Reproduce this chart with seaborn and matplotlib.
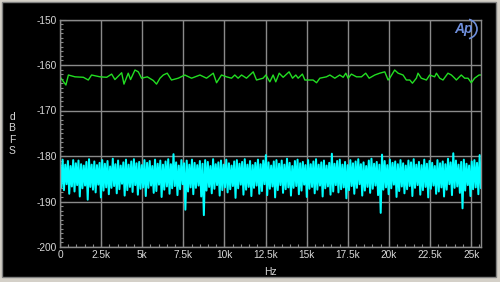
import numpy as np
import matplotlib
matplotlib.use("Agg")
import matplotlib.pyplot as plt
from matplotlib.patches import Rectangle, Arc
from matplotlib.ticker import MultipleLocator, FixedLocator
import seaborn as sns

# ---------------- data ----------------
green_khz = [0, 0.36, 0.51, 0.91, 1.42, 1.72, 1.92, 2.43, 2.84, 3.14, 3.34, 3.75, 3.89, 4.15, 4.29,
             4.56, 4.76, 4.96, 5.31, 5.67, 5.87, 6.08, 6.28, 6.52, 6.78, 7.19, 7.59, 8.00, 8.51,
             8.91, 9.32, 9.52, 9.82, 10.13, 10.43, 10.63, 10.83, 11.04, 11.34, 11.75, 11.95, 12.35,
             12.52, 12.76, 12.96, 13.12, 13.33, 13.57, 13.93, 14.14, 14.34, 14.48, 14.74, 14.89,
             15.39, 15.60, 15.80, 16.20, 16.41, 16.71, 17.01, 17.22, 17.38, 17.52, 17.72, 18.03,
             18.33, 18.59, 18.80, 19.14, 19.44, 19.75, 19.95, 20.05, 20.35, 20.56, 20.86, 21.06,
             21.27, 21.43, 21.67, 21.77, 21.97, 22.28, 22.48, 22.78, 22.89, 23.09, 23.29, 23.59,
             23.80, 24.00, 24.10, 24.40, 24.61, 24.81, 25.01, 25.21, 25.48, 25.58]
green_db = [-162.6, -164.4, -162.2, -162.6, -162.7, -163.3, -162.2, -162.6, -162.7, -162.0, -163.2,
            -161.7, -164.2, -161.8, -163.2, -161.1, -161.5, -162.9, -162.6, -163.4, -164.2, -162.9,
            -162.2, -161.8, -163.3, -162.9, -162.2, -162.9, -162.2, -162.9, -161.8, -163.9, -162.2,
            -162.6, -162.9, -162.2, -162.9, -162.2, -162.9, -161.5, -163.3, -162.9, -162.2, -163.7,
            -162.2, -163.7, -161.8, -162.7, -161.5, -162.9, -162.2, -162.9, -162.0, -163.3, -163.3,
            -163.9, -162.9, -162.6, -162.2, -162.9, -162.2, -162.7, -161.8, -162.9, -162.0, -162.6,
            -162.6, -161.8, -162.9, -162.2, -161.8, -161.5, -163.3, -162.9, -161.1, -161.8, -162.2,
            -163.3, -163.3, -164.0, -162.9, -161.8, -162.9, -163.3, -162.2, -162.6, -161.8, -162.9,
            -163.3, -161.8, -162.2, -162.9, -163.3, -162.2, -162.9, -162.9, -163.9, -162.9, -162.2,
            -162.2]

cyan_db = [
    -181.4, -186.9, -180.8, -187.5, -181.9, -186.2, -181.1, -188.3, -182.2, -186.7, -180.9, -187.8, -181.6, -186.4, -181.0, -188.9, -181.8, -187.1, -182.1, -186.5,
    -181.3, -189.6, -180.7, -186.8, -181.9, -187.4, -181.2, -188.0, -182.0, -186.3, -181.5, -189.1, -180.9, -187.6, -181.7, -186.9, -181.1, -188.4, -182.3, -187.0,
    -180.6, -186.6, -181.8, -188.2, -181.0, -187.3, -182.1, -186.1, -181.4, -188.7, -180.8, -187.5, -181.9, -186.8, -181.2, -187.9, -180.7, -186.4, -181.6, -188.5,
    -181.3, -187.2, -182.0, -186.9, -180.9, -188.8, -181.5, -187.0, -181.1, -186.5, -182.2, -188.1, -180.8, -187.7, -181.7, -186.3, -181.0, -189.0, -181.9, -187.4,
    -181.2, -186.7, -180.7, -188.3, -181.8, -187.1, -179.6, -186.6, -181.4, -188.6, -182.1, -187.3, -180.9, -186.2, -181.6, -191.8, -181.0, -187.8, -181.9, -186.9,
    -180.8, -188.4, -181.5, -187.0, -182.0, -186.5, -181.1, -188.9, -181.7, -193.0, -180.9, -187.6, -181.3, -186.8, -182.2, -188.2, -180.7, -187.2, -181.8, -186.4,
    -181.4, -188.7, -181.0, -187.5, -181.9, -186.9, -180.8, -188.0, -181.6, -187.3, -182.1, -186.6, -181.2, -189.2, -180.9, -187.1, -181.7, -186.3, -181.3, -188.5,
    -180.7, -187.4, -181.9, -186.8, -181.1, -188.8, -182.0, -187.0, -181.5, -186.5, -180.8, -188.3, -181.8, -187.7, -181.0, -186.2, -179.8, -188.6, -181.4, -187.2,
    -182.1, -186.7, -181.2, -189.1, -180.9, -187.5, -181.7, -186.4, -181.0, -188.1, -181.9, -187.3, -180.6, -186.9, -181.5, -188.7, -182.2, -187.0, -181.1, -186.6,
    -180.8, -188.4, -181.6, -187.6, -181.3, -186.3, -182.0, -189.0, -180.9, -187.2, -181.8, -186.8, -181.2, -188.2, -180.7, -187.4, -181.9, -186.5, -181.4, -188.9,
    -181.0, -187.1, -182.1, -186.7, -181.5, -188.5, -179.5, -187.8, -181.7, -186.4, -181.1, -188.0, -180.8, -187.3, -181.9, -186.9, -181.3, -189.3, -182.0, -187.5,
    -180.9, -186.6, -181.6, -188.3, -181.2, -187.0, -180.7, -186.2, -181.8, -188.7, -181.4, -187.6, -182.2, -186.8, -181.0, -188.1, -180.6, -187.2, -181.7, -186.5,
    -181.3, -188.6, -181.9, -192.5, -179.7, -187.4, -181.1, -186.9, -182.0, -188.4, -180.8, -187.1, -181.5, -186.3, -181.2, -189.0, -181.8, -187.7, -180.9, -186.7,
    -181.6, -188.2, -182.1, -187.3, -181.0, -186.6, -181.4, -188.8, -180.7, -187.0, -181.9, -186.4, -181.3, -188.5, -182.0, -187.5, -180.8, -186.8, -181.7, -189.1,
    -181.1, -187.2, -181.5, -186.5, -182.2, -188.3, -180.9, -187.8, -181.6, -186.9, -181.2, -188.9, -181.8, -187.4, -180.6, -186.2, -181.4, -188.6, -179.4, -187.0,
    -181.0, -186.7, -181.9, -188.1, -181.3, -191.5, -180.8, -187.6, -181.7, -186.4, -182.1, -188.8, -181.2, -187.3, -180.9, -186.9, -181.5, -188.4, -179.8, -187.1,
]
cyan_max_hz = 25600

x_ticks = [0, 2500, 5000, 7500, 10000, 12500, 15000, 17500, 20000, 22500, 25000]
x_labels = ["0", "2.5k", "5k", "7.5k", "10k", "12.5k", "15k", "17.5k", "20k", "22.5k", "25k"]
y_ticks = [-200, -190, -180, -170, -160, -150]
y_labels = ["-200", "-190", "-180", "-170", "-160", "-150"]

# ---------------- style ----------------
sns.set_theme(style="dark")
plt.rcParams["font.family"] = ["Liberation Sans", "DejaVu Sans"]

TXT = "#d8d8d8"
GRID = "#8a8a8a"

fig = plt.figure(figsize=(5.0, 2.82), dpi=100, facecolor="#d4d0c8")
fig.patches.append(Rectangle((2 / 500, 5 / 282), 494 / 500, 275 / 282, transform=fig.transFigure,
                             facecolor="black", edgecolor="#808080", linewidth=1.0, zorder=-5))

ax = fig.add_axes([60 / 500, 1 - 247 / 282, 421 / 500, (247 - 19.5) / 282])
ax.set_facecolor("black")

green_hz = [v * 1000 for v in green_khz]
cyan_hz = np.linspace(0, cyan_max_hz, len(cyan_db))

sns.lineplot(x=cyan_hz, y=cyan_db, ax=ax, color="#00ffff", linewidth=1.45, estimator=None, sort=False)
sns.lineplot(x=green_hz, y=green_db, ax=ax, color="#22dd22", linewidth=1.0, estimator=None, sort=False)

ax.set_xlim(0, 25600)
ax.set_ylim(-200, -150)

ax.xaxis.set_major_locator(FixedLocator(x_ticks))
ax.set_xticklabels(x_labels)
ax.xaxis.set_minor_locator(MultipleLocator(500))
ax.yaxis.set_major_locator(FixedLocator(y_ticks))
ax.set_yticklabels(y_labels)
ax.yaxis.set_minor_locator(MultipleLocator(1))

ax.grid(True, which="major", color=GRID, linewidth=1.0)
ax.grid(False, which="minor")
ax.set_axisbelow(True)
for s in ax.spines.values():
    s.set_visible(True)
    s.set_color(GRID)
    s.set_linewidth(1.0)

ax.tick_params(axis="both", which="major", direction="in", length=4, width=0.8, color=GRID,
               labelcolor=TXT, labelsize=7.3, pad=2, bottom=True, left=True)
ax.tick_params(axis="both", which="minor", direction="in", length=2, width=0.8, color=GRID,
               bottom=True, left=True)
ax.set_xlabel("")
ax.set_ylabel("")

fig.text(12 / 500, 1 - 134 / 282, "d\nB\nF\nS", color=TXT, fontsize=7.5, ha="center", va="center",
         linespacing=1.2)
fig.text(270 / 500, 1 - 272 / 282, "Hz", color=TXT, fontsize=7.5, ha="center", va="center")

# Ap logo
fig.text(464 / 500, 1 - 29 / 282, "Ap", color="#6f8fdc", fontsize=10, fontstyle="italic",
         fontweight="bold", ha="center", va="center")
fig.patches.append(Arc((466 / 500, 1 - 29 / 282), 22 / 500, 20 / 282, theta1=-80, theta2=80,
                       transform=fig.transFigure, color="#6f8fdc", linewidth=1.2))

fig.savefig("out.png", dpi=100, facecolor=fig.get_facecolor())
